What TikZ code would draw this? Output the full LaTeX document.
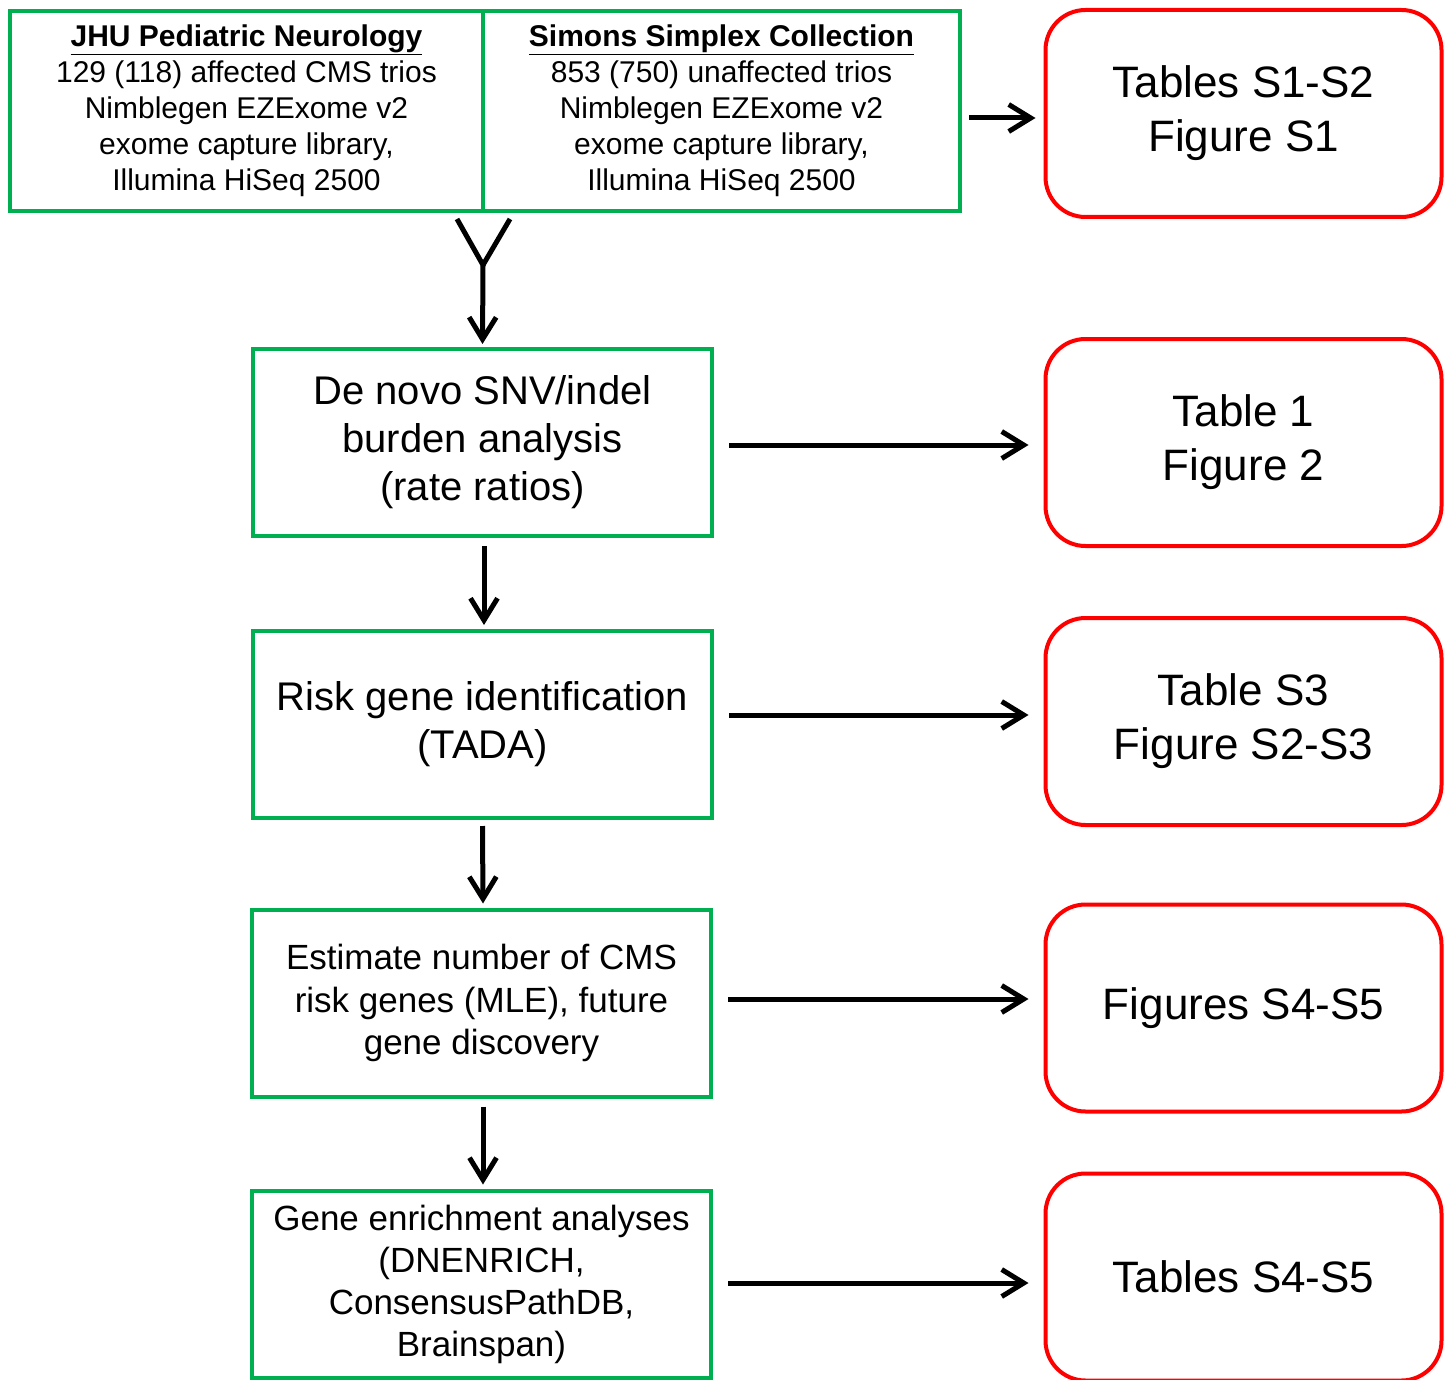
\documentclass[tikz,border=0pt]{standalone}
\usepackage{fontspec}
\setmainfont{Liberation Sans}
\usepackage{tikz}
\usetikzlibrary{positioning,arrows.meta}
\definecolor{boxgreen}{RGB}{0,176,80}
\definecolor{boxred}{RGB}{255,0,0}

\begin{document}
\begin{tikzpicture}[x=1pt,y=-1pt,
    source/.style={draw=boxgreen,line width=4pt,minimum height=200pt,align=center,font=\fontsize{30}{36}\selectfont},
    stage/.style={draw=boxgreen,line width=4pt,minimum width=459pt,minimum height=187pt,align=center},
    result/.style={draw=boxred,line width=4pt,rounded corners=40pt,minimum width=396pt,minimum height=207pt,align=center,font=\fontsize{44}{54}\selectfont},
    flow/.style={line width=5pt,-{Straight Barb[length=22pt,width=27pt]}}]
    \useasboundingbox (0,0) rectangle (1448,1380);

    \node[source,minimum width=473pt] (jhu) at (246.5,111) {\underline{\textbf{JHU Pediatric Neurology}}\\129 (118) affected CMS trios\\Nimblegen EZExome v2\\exome capture library,\\Illumina HiSeq 2500};
    \node[source,minimum width=477pt] (ssc) at (721.5,111) {\underline{\textbf{Simons Simplex Collection}}\\853 (750) unaffected trios\\Nimblegen EZExome v2\\exome capture library,\\Illumina HiSeq 2500};

    \node[stage,font=\fontsize{40}{48}\selectfont] (denovo) at (482.5,442.5) {De novo SNV/indel\\burden analysis\\(rate ratios)};
    \node[stage,font=\fontsize{40}{48}\selectfont] (tada) at (482.5,724.5) {Risk gene identification\\(TADA)};
    \node[stage,font=\fontsize{35}{42.5}\selectfont] (mle) at (481.5,1003) {Estimate number of CMS\\risk genes (MLE), future\\gene discovery};
    \node[stage,font=\fontsize{35}{42}\selectfont] (enrich) at (481.5,1284) {Gene enrichment analyses\\(DNENRICH,\\ConsensusPathDB,\\Brainspan)};

    \node[result] (res1) at (1243.5,113.5) {Tables S1-S2\\Figure S1};
    \node[result] (res2) at (1243.5,442.5) {Table 1\\Figure 2};
    \node[result] (res3) at (1243.5,721.5) {Table S3\\Figure S2-S3};
    \node[result] (res4) at (1243.5,1008) {Figures S4-S5};
    \node[result] (res5) at (1243.5,1277) {Tables S4-S5};

    % the two cohorts merge
    \coordinate (join) at (483,265);
    \draw[line width=5pt] ([xshift=-28pt,yshift=-6pt]jhu.south east) -- (join) -- ([xshift=29pt,yshift=-6pt]ssc.south west);
    \draw[flow] (join) -- ([yshift=3pt]denovo.north);
    \draw[flow] ([xshift=1.5pt,yshift=-8pt]denovo.south) -- ([xshift=1.5pt,yshift=4pt]tada.north);
    \draw[flow] ([yshift=-6pt]tada.south) -- ([xshift=1.5pt,yshift=4pt]mle.north);
    \draw[flow] ([xshift=1.5pt,yshift=-8pt]mle.south) -- ([xshift=1.5pt,yshift=4pt]enrich.north);

    % outputs
    \draw[flow] ([xshift=7pt,yshift=-7pt]ssc.east) -- ([xshift=-8pt,yshift=-4.5pt]res1.west);
    \draw[flow,shorten <=15pt,shorten >=15pt] ([yshift=-2.5pt]denovo.east) -- ([yshift=-2.5pt]res2.west);
    \draw[flow,shorten <=15pt,shorten >=15pt] ([yshift=9.5pt]tada.east) -- ([yshift=6.5pt]res3.west);
    \draw[flow,shorten <=15pt,shorten >=15pt] ([yshift=4pt]mle.east) -- ([yshift=9pt]res4.west);
    \draw[flow,shorten <=15pt,shorten >=15pt] ([yshift=1pt]enrich.east) -- ([yshift=-6pt]res5.west);
\end{tikzpicture}
\end{document}
